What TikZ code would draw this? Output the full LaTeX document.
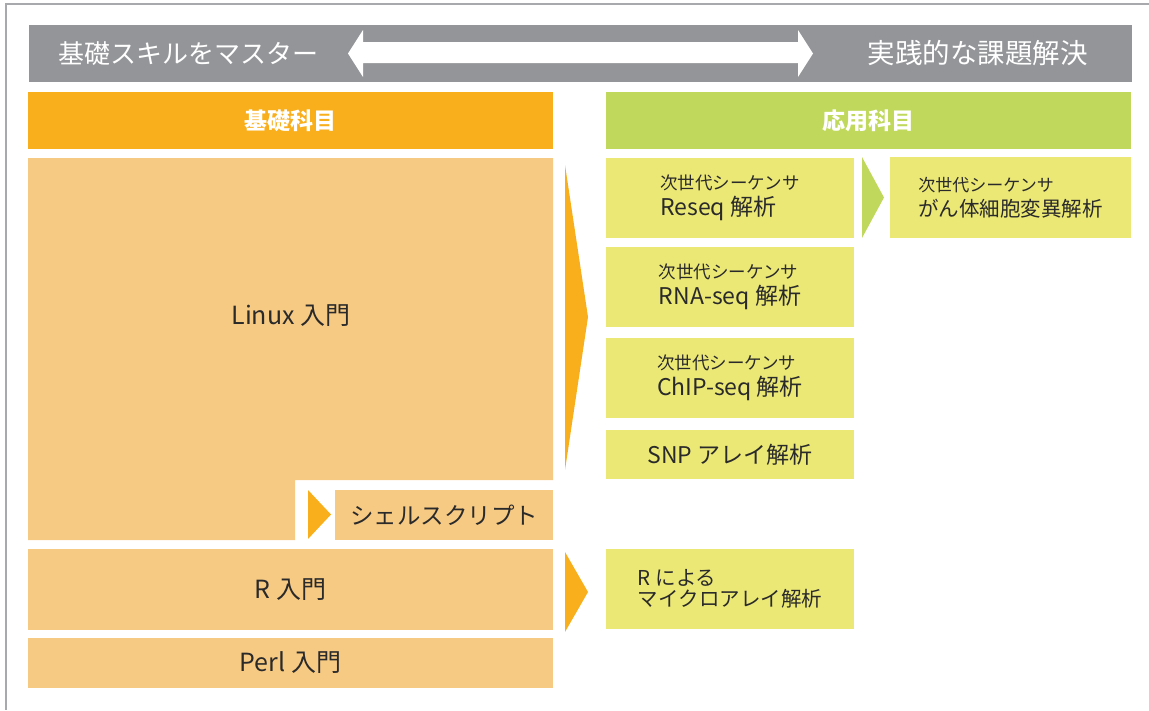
\documentclass[tikz,border=0pt]{standalone}
\usepackage{fontspec}
\setmainfont{Noto Sans CJK JP}
\usepackage{tikz}
\usepackage{xcolor}
\definecolor{cinza}{HTML}{939598}
\definecolor{moldura}{HTML}{A7A9AC}
\definecolor{laranja}{HTML}{F8AF1B}
\definecolor{laranjaclaro}{HTML}{F7CA84}
\definecolor{verde}{HTML}{C0D95C}
\definecolor{verdeclaro}{HTML}{EBE876}
\definecolor{texto}{HTML}{2A2A2A}
\newcommand{\ngs}{{\fontsize{17.5}{19}\selectfont 次世代シーケンサ}\\}

\begin{document}
\begin{tikzpicture}[x=1pt,y=-1pt,
    caixa/.style={inner sep=0pt, text=texto, font=\fontsize{25}{28}\selectfont},
    base/.style={caixa, fill=laranjaclaro, minimum width=525pt},
    aplic/.style={caixa, fill=verdeclaro, minimum width=248pt, minimum height=80pt, align=left, font=\fontsize{23}{26}\selectfont},
    cabec/.style={inner sep=0pt, minimum width=525pt, minimum height=57pt, text=white, font=\fontsize{23}{26}\selectfont\bfseries}]
    \useasboundingbox (0,0) rectangle (1149,710);
    % Moldura
    \draw[moldura, line width=1.5pt] (6,710) -- (6,4) -- (1149,4);
    % Barra superior
    \node[fill=cinza, minimum width=1103pt, minimum height=57pt, inner sep=0pt] (barra) at (580.5,53.5) {};
    \node[anchor=west, text=white, inner sep=0pt, font=\fontsize{26}{30}\selectfont] (basico) at (58,53.5) {基礎スキルをマスター};
    \node[anchor=east, text=white, inner sep=0pt, font=\fontsize{27.5}{30}\selectfont] (pratico) at (1088,53.5) {実践的な課題解決};
    \fill[white] (348,53.5) -- (363,30) -- (363,42) -- (798,42) -- (798,30) -- (813,53.5)
        -- (798,77) -- (798,63) -- (363,63) -- (363,77) -- cycle;
    % Cabeçalhos
    \node[cabec, fill=laranja] (kiso) at (290.5,120.5) {基礎科目};
    \node[cabec, fill=verde] (oyo) at (868.5,120.5) {応用科目};
    % Disciplinas básicas
    \fill[laranjaclaro] (28,158) -- (553,158) -- (553,480) -- (295,480) -- (295,540) -- (28,540) -- cycle;
    \node[caixa] (linux) at (291,316) {Linux 入門};
    \node[caixa, fill=laranjaclaro, minimum width=218pt, minimum height=50pt, font=\fontsize{23.5}{26}\selectfont] (shell) at (444,515) {シェルスクリプト};
    \fill[laranja] (308,490) -- (331,514.5) -- (308,539) -- cycle;
    \node[base, minimum height=81pt] (r) at (290.5,589.5) {R 入門};
    \node[base, minimum height=50pt] (perl) at (290.5,663) {Perl 入門};
    % Setas
    \fill[laranja] (565,165) -- (588,317) -- (565,470) -- cycle;
    \fill[laranja] (565,552) -- (588,592) -- (565,632) -- cycle;
    \fill[verde] (862,157) -- (884,197.5) -- (862,238) -- cycle;
    % Disciplinas aplicadas
    \node[aplic] (reseq) at (730,198) {\ngs Reseq 解析};
    \node[aplic] (rnaseq) at (730,287) {\ngs RNA-seq 解析};
    \node[aplic] (chipseq) at (730,378) {\ngs ChIP-seq 解析};
    \node[aplic, minimum height=49pt] (snp) at (730,454.5) {SNP アレイ解析};
    \node[aplic, font=\fontsize{20.5}{21}\selectfont] (micro) at (730,589) {R による\\マイクロアレイ解析};
    \node[aplic, minimum width=241pt, minimum height=81pt, font=\fontsize{20.5}{25}\selectfont] (cancer) at (1010.5,197.5)
        {{\fontsize{17}{19}\selectfont 次世代シーケンサ}\\がん体細胞変異解析};
\end{tikzpicture}
\end{document}
